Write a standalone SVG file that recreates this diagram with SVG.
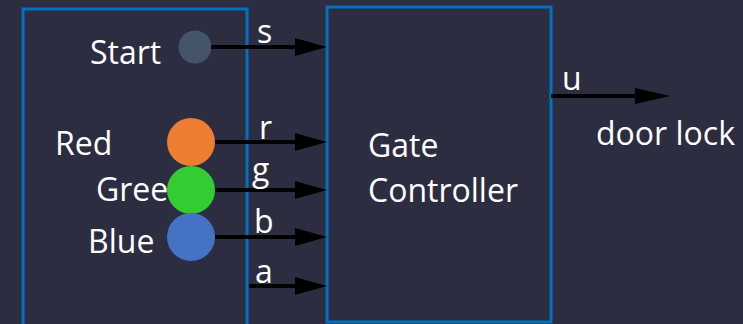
<svg xmlns="http://www.w3.org/2000/svg" width="743" height="324" viewBox="0 0 743 324">
  <style>
    .box { fill: none; stroke: #0070C0; stroke-width: 3; }
    .lbl { font-family: "Open Sans", "Liberation Sans", sans-serif; font-size: 32px; fill: #FFFFFF; }
    .wire { stroke: #000000; stroke-width: 4; fill: none; }
    .head { fill: #000000; }
  </style>
  <rect width="743" height="324" fill="#2D2D41"/>

  <!-- input panel -->
  <g id="panel">
    <rect class="box" x="23" y="9" width="224" height="330"/>
  </g>

  <!-- controller block -->
  <g id="controller">
    <rect class="box" x="327" y="7" width="224" height="315"/>
    <text class="lbl" x="368" y="157">Gate</text>
    <text class="lbl" x="368" y="202">Controller</text>
  </g>

  <g id="start">
    <text class="lbl" x="90" y="64">Start</text>
    <circle cx="195" cy="47" r="16.5" fill="#44546A"/>
  </g>
  <g id="red">
    <text class="lbl" x="55" y="155">Red</text>
    <circle cx="191" cy="142" r="24" fill="#ED7D31"/>
  </g>
  <g id="green">
    <text class="lbl" x="96" y="201">Gree</text>
    <circle cx="191" cy="190" r="24" fill="#33CC33"/>
  </g>
  <g id="blue">
    <text class="lbl" x="88" y="253">Blue</text>
    <circle cx="191" cy="237" r="24" fill="#4472C4"/>
  </g>

  <g id="door-lock">
    <text class="lbl" x="596" y="145">door lock</text>
  </g>

  <!-- signal wires -->
  <g id="connectors">
    <line class="wire" x1="211" y1="47" x2="297" y2="47"/>
    <polygon class="head" points="295,38 327,47 295,56"/>
    <text class="lbl" x="257" y="43">s</text>

    <line class="wire" x1="215" y1="142" x2="297" y2="142"/>
    <polygon class="head" points="295,133 327,142 295,151"/>
    <text class="lbl" x="259" y="139">r</text>

    <line class="wire" x1="215" y1="190" x2="297" y2="190"/>
    <polygon class="head" points="295,181 327,190 295,199"/>
    <text class="lbl" x="252" y="181">g</text>

    <line class="wire" x1="215" y1="237" x2="297" y2="237"/>
    <polygon class="head" points="295,228 327,237 295,246"/>
    <text class="lbl" x="254" y="233">b</text>

    <line class="wire" x1="249" y1="286" x2="297" y2="286"/>
    <polygon class="head" points="295,277 327,286 295,295"/>
    <text class="lbl" x="255" y="283">a</text>

    <line class="wire" x1="551" y1="96" x2="637" y2="96"/>
    <polygon class="head" points="635,88 670,96 635,104"/>
    <text class="lbl" x="562" y="90">u</text>
  </g>
</svg>
